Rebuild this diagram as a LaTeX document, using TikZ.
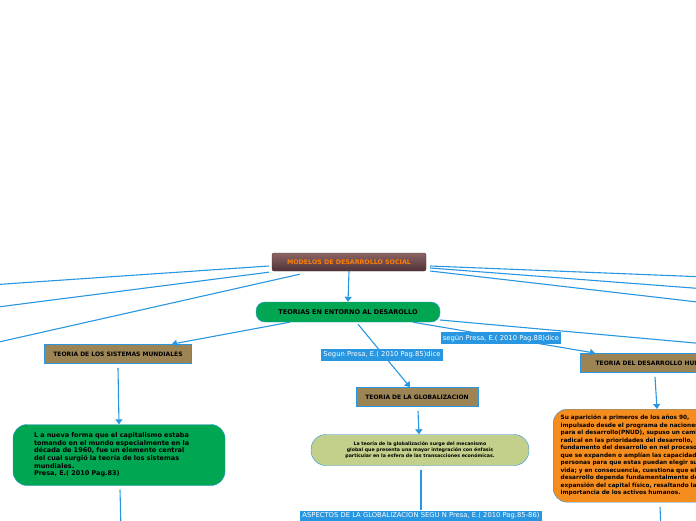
\documentclass[tikz,border=0pt]{standalone}
\usepackage{fontspec}
\setmainfont{DejaVu Sans}
\usetikzlibrary{arrows.meta,calc}
\definecolor{linkblue}{RGB}{40,150,224}
\definecolor{boxbrown}{RGB}{156,132,85}
\definecolor{mapgreen}{RGB}{0,166,81}
\definecolor{palegreen}{RGB}{195,208,139}
\definecolor{maporange}{RGB}{245,140,30}
\definecolor{roottop}{RGB}{140,100,100}
\definecolor{rootbot}{RGB}{80,50,55}
\begin{document}
\begin{tikzpicture}[x=1pt,y=-1pt,
    block_root/.style ={rectangle, rounded corners=2pt, top color=roottop, bottom color=rootbot,
      draw=rootbot, text=orange, font=\bfseries\fontsize{6.3}{7}\selectfont,
      minimum width=154pt, minimum height=18pt},
    block_pill/.style ={rectangle, rounded corners=9pt, fill=mapgreen, draw=linkblue,
      font=\bfseries\fontsize{6.5}{7.5}\selectfont, minimum width=184pt, minimum height=20pt},
    block_title/.style ={rectangle, fill=boxbrown, draw=linkblue, thick,
      font=\bfseries\fontsize{6}{7}\selectfont, minimum height=19pt, inner xsep=6pt},
    block_text/.style ={rectangle, rounded corners=14pt, draw=linkblue,
      font=\bfseries\fontsize{6.5}{7.6}\selectfont, align=left},
    block_label/.style ={rectangle, fill=linkblue, text=white, inner sep=2pt,
      font=\fontsize{6.8}{7.5}\selectfont, minimum height=12pt},
    line/.style ={draw=linkblue, line width=1.1pt, -{Triangle[length=5pt,width=7pt]}}]
  \useasboundingbox (0,0) rectangle (696,520);
  \clip (0,0) rectangle (696,520);
  % main nodes
  \node [block_root] (root) at (349,262) {MODELOS DE DESARROLLO SOCIAL};
  \node [block_pill] (theories) at (348,312) {TEORIAS EN ENTORNO AL DESAROLLO};
  \node [block_title, minimum width=147pt] (worldsys) at (118,354) {TEORIA DE LOS SISTEMAS MUNDIALES};
  \node [block_text, fill=mapgreen, minimum width=212pt, minimum height=61pt, text width=170pt]
    (worldtext) at (119,455) {L a nueva forma que el capitalismo estaba\\
    tomando en el mundo especialmente en la\\
    década de 1960, fue un elemento central\\
    del cual surgió la teoría de los sistemas\\
    mundiales.\\
    Presa, E.( 2010 Pag.83)};
  \node [block_title, minimum width=122pt] (glob) at (417,397) {TEORIA DE LA GLOBALIZACION};
  \node [block_text, fill=palegreen, align=center, minimum width=218pt, minimum height=31pt,
    rounded corners=15pt, font=\bfseries\fontsize{4.7}{6}\selectfont]
    (globtext) at (420,450) {La teoría de la globalización  surge del mecanismo\\
    global que presenta una mayor integración con énfasis\\
    particular en la esfera de las transacciones económicas.};
  \node [block_title, anchor=west, minimum width=150pt]
    (human) at (580,363) {TEORIA DEL DESARROLLO HUMANO};
  \node [block_text, fill=maporange, anchor=north west, minimum width=200pt, minimum height=93pt,
    text width=185pt, font=\bfseries\fontsize{5.8}{7.5}\selectfont]
    (humantext) at (553,409) {Su aparición a primeros de los años 90,\\
    impulsado desde el programa de naciones\\
    para el desarrollo(PNUD), supuso un cambio\\
    radical en las prioridades del desarrollo,\\
    fundamento del desarrollo en nel proceso\\
    que se expanden o amplían las capacidades\\
    personas para que estas puedan elegir su\\
    vida; y en consecuencia, cuestiona que el\\
    desarrollo dependa fundamentalmente de la\\
    expansión del capital físico, resaltando la\\
    importancia de los activos humanos.};
  % far ends outside the view
  \coordinate (farl1) at (-10,285);
  \coordinate (farl2) at (-10,308);
  \coordinate (farl3) at (-10,344);
  \coordinate (farr1) at (706,277);
  \coordinate (farr2) at (706,289);
  \coordinate (farr3) at (706,303);
  \coordinate (farr4) at (706,344);
  \coordinate (down1) at (121,530);
  \coordinate (down2) at (661,530);
  \coordinate (aspecttop) at (421,510);
  % connecting nodes with paths
  \begin{scope}[every path/.style=line]
    \path (root.south) -- (theories.north);
    \path ($(theories.south west)+(34,0)$) -- ($(worldsys.north east)+(-20,0)$);
    \path ($(worldsys.south)+(0,4)$) -- (worldtext.north);
    \path ($(theories.south)+(10,2)$) -- ($(glob.north)+(-7,0)$);
    \path ($(glob.south)+(1,4)$) -- ($(globtext.north)+(-1,0)$);
    \path ($(theories.south)+(65,0)$) -- ($(human.north west)+(15,0)$);
    \path ($(human.south west)+(75,4)$) -- ($(humantext.north west)+(104,0)$);
  \end{scope}
  \begin{scope}[every path/.style={draw=linkblue, line width=1.1pt}]
    \path ($(root.west)+(-3,4)$) -- (farl1);
    \path ($(root.south west)+(-3,1)$) -- (farl2);
    \path ($(root.south west)+(28,3)$) -- (farl3);
    \path ($(root.east)+(4,4)$) -- (farr1);
    \path ($(root.east)+(4,6)$) -- (farr2);
    \path ($(root.east)+(4,9)$) -- (farr3);
    \path ($(theories.east)+(0,8)$) -- (farr4);
    \path ($(worldtext.south)+(1,4)$) -- (down1);
    \path ($(globtext.south)+(1,4)$) -- (aspecttop);
    \path ($(humantext.north west)+(107,98)$) -- (down2);
  \end{scope}
  % labels on connectors
  \node [block_label] (glabel) at (382,355) {Segun Presa, E.( 2010 Pag.85)dice};
  \node [block_label] (hlabel) at (501,338) {según Presa, E.( 2010 Pag.88)dice};
  \node [block_label, minimum height=11pt] (aspects) at (421,516) {ASPECTOS DE LA GLOBALIZACION SEGU N Presa, E.( 2010 Pag.85-86)};
\end{tikzpicture}
\end{document}
